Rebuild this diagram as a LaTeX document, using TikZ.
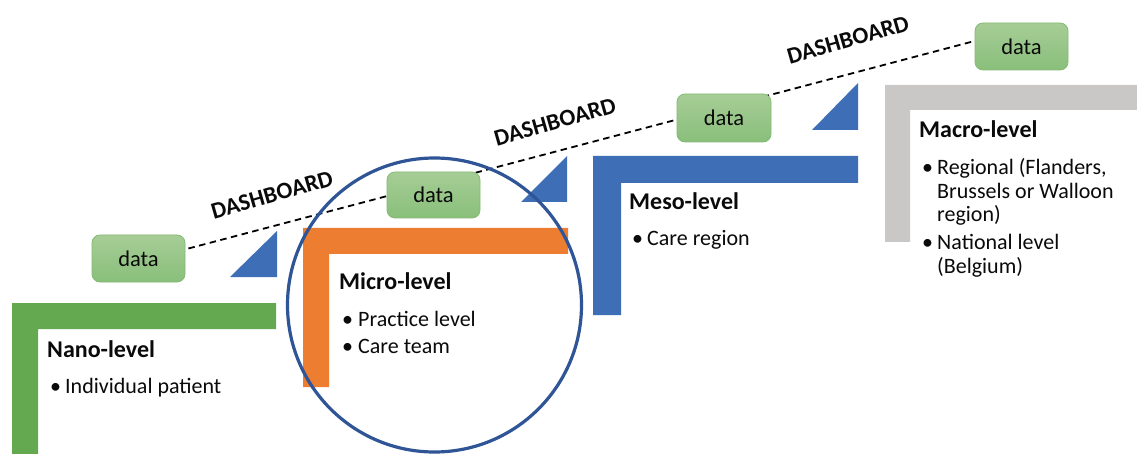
\documentclass[tikz,border=0pt]{standalone}
\usepackage{fontspec}
\setmainfont{Carlito}
\usetikzlibrary{calc}
\definecolor{nanoG}{RGB}{100,168,80}
\definecolor{microO}{RGB}{237,125,49}
\definecolor{mesoB}{RGB}{62,111,182}
\definecolor{macroG}{RGB}{201,200,199}
\definecolor{circB}{RGB}{47,85,151}
\definecolor{dataTop}{RGB}{166,205,150}
\definecolor{dataBot}{RGB}{137,191,123}
\definecolor{dataLine}{RGB}{132,186,116}
\definecolor{txt}{RGB}{10,10,10}
\begin{document}
\begin{tikzpicture}[x=1pt,y=-1pt,
  databox/.style={rectangle, rounded corners=8pt, draw=dataLine, line width=0.8pt,
    top color=dataTop, bottom color=dataBot, text=txt,
    font=\fontsize{22.5}{26}\selectfont, inner sep=0pt},
  title/.style={anchor=base west, inner sep=0pt, text=txt, font=\fontsize{24}{28}\selectfont\bfseries},
  body/.style={anchor=base west, inner sep=0pt, text=txt, font=\fontsize{22}{26}\selectfont},
  dashlabel/.style={inner sep=0pt, text=txt, font=\fontsize{23.5}{27}\selectfont\bfseries, rotate=16},
  dashline/.style={draw=black, line width=1.8pt, dash pattern=on 6.5pt off 4.5pt}
]
\useasboundingbox (0,0) rectangle (1137,454);
\fill[white] (0,0) rectangle (1137,454);

% L-shaped steps
\fill[nanoG]  (12,454) -- (12,303) -- (276,303) -- (276,329) -- (38,329) -- (38,454) -- cycle;
\fill[microO] (303,387) -- (303,228) -- (568,228) -- (568,254) -- (329,254) -- (329,387) -- cycle;
\fill[mesoB]  (593,315) -- (593,156) -- (858,156) -- (858,183) -- (621,183) -- (621,315) -- cycle;
\fill[macroG] (885,242) -- (885,85) -- (1137,85) -- (1137,110) -- (910,110) -- (910,242) -- cycle;

% triangles
\fill[mesoB] (230,277) -- (277,277) -- (277,231) -- cycle;
\fill[mesoB] (521,202) -- (567,202) -- (567,156) -- cycle;
\fill[mesoB] (812,130) -- (858,130) -- (858,83) -- cycle;

% data boxes at the ends of the dashed line
\path (138.5,258.5) node[databox, minimum width=93pt, minimum height=47pt] (d1) {data};
\path (1021.5,46.5) node[databox, minimum width=93pt, minimum height=47pt] (d4) {data};

% dashed line
\coordinate (ls) at ($(d1.east)+(3,-10)$);
\coordinate (le) at ($(d4.west)+(0,-5.5)$);
\draw[dashline] (ls) -- (le);

% data boxes lying on the line
\node[databox, minimum width=93pt, minimum height=46pt] (d2) at (433.5,195) {data};
\node[databox, minimum width=94pt, minimum height=48pt] (d3) at (724,118) {data};

% dashboard labels
\node[dashlabel] (db1) at (272,195) {DASHBOARD};
\node[dashlabel] (db2) at (555,122) {DASHBOARD};
\node[dashlabel] (db3) at (848,40) {DASHBOARD};

% circle
\draw[circB, line width=3.2pt] (434.5,305) circle[radius=147];

% texts
\node[title] (nanoT) at (47,357) {Nano-level};
\node[body] (nanoB1) at (50,393) {•};
\node[body] (nanoL1) at (65,393) {Individual patient};

\node[title] (microT) at (339,290) {Micro-level};
\node[body] (microB1) at (342,326) {•};
\node[body] (microL1) at (358,326) {Practice level};
\node[body] (microB2) at (342,353) {•};
\node[body] (microL2) at (358,353) {Care team};

\node[title] (mesoT) at (629,210) {Meso-level};
\node[body] (mesoB1) at (632,246) {•};
\node[body] (mesoL1) at (647,246) {Care region};

\node[title] (macroT) at (919,138) {Macro-level};
\node[body] (macroB1) at (922,175) {•};
\node[body] (macroL1a) at (937,175) {Regional (Flanders,};
\node[body] (macroL1b) at (937,198.5) {Brussels or Walloon};
\node[body] (macroL1c) at (937,222) {region)};
\node[body] (macroB2) at (922,250) {•};
\node[body] (macroL2a) at (937,250) {National level};
\node[body] (macroL2b) at (937,273.5) {(Belgium)};
\end{tikzpicture}
\end{document}
